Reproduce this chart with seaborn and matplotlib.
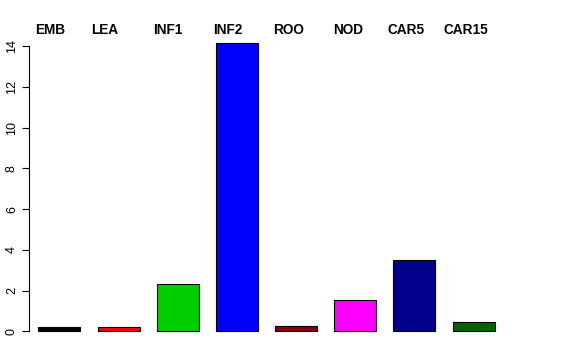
import matplotlib
matplotlib.use("Agg")
import matplotlib.pyplot as plt
import seaborn as sns
import pandas as pd

categories = ["EMB", "LEA", "INF1", "INF2", "ROO", "NOD", "CAR5", "CAR15"]
values = [0.2, 0.24, 2.31, 14.15, 0.29, 1.53, 3.49, 0.48]
colors = ["#000000", "#FF0000", "#00CD00", "#0000FF", "#8B0000", "#FF00FF", "#00008B", "#006400"]
yticks = [0, 2, 4, 6, 8, 10, 12, 14]

# label left edges in figure pixels (layout only)
label_x_px = [35, 91, 153, 213, 273, 333, 388, 443]

sns.set_style("white")
plt.rcParams['font.family'] = ['Liberation Sans', 'DejaVu Sans']
plt.rcParams['text.color'] = 'black'

df = pd.DataFrame({"cat": categories, "val": values})

W, H = 576, 360
fig = plt.figure(figsize=(W / 100, H / 100), dpi=100)
ax = fig.add_axes([29 / W, (360 - 343) / H, (504 - 29) / W, (343 - 33.5) / H])

sns.barplot(data=df, x="cat", y="val", hue="cat", palette=colors, legend=False,
            width=0.71, edgecolor="black", linewidth=0.8, ax=ax, saturation=1)

ax.set_xlim(-0.515, 7.515)
ax.set_ylim(-0.564, 14.61)
ax.set_xlabel("")
ax.set_ylabel("")
ax.set_xticks([])
ax.set_yticks(yticks)
ax.set_yticklabels([str(t) for t in yticks], rotation=90, va="center", fontsize=9)
ax.tick_params(axis="y", direction="out", length=5, width=0.8, pad=3, left=True,
               colors="black", labelcolor="black")
for s in ["top", "right", "bottom"]:
    ax.spines[s].set_visible(False)
ax.spines["left"].set_bounds(0, 14)
ax.spines["left"].set_color("black")
ax.spines["left"].set_linewidth(0.8)

for lab, xp in zip(categories, label_x_px):
    fig.text(xp / W, 1 - 30 / H, lab, fontsize=9.8, fontweight="bold", ha="left",
             va="center", color="black")

fig.savefig("out.png", dpi=100)
